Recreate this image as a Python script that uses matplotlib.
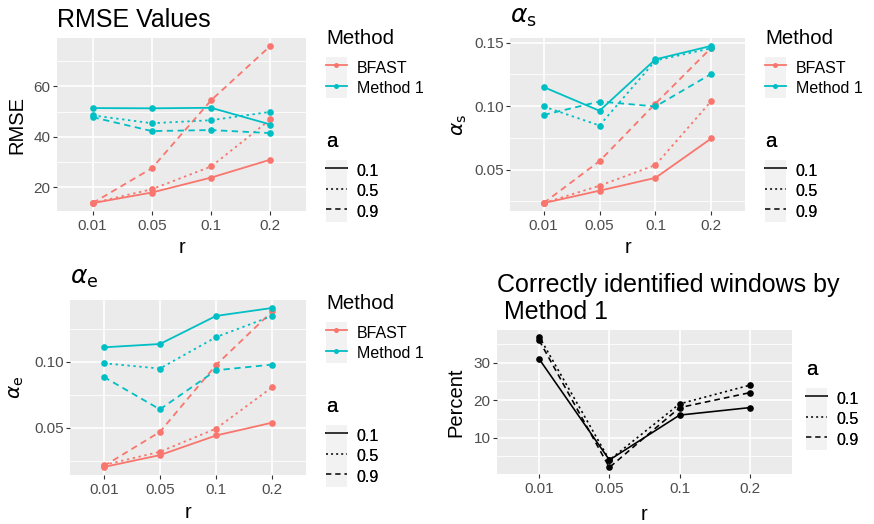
import matplotlib
matplotlib.use('Agg')
import matplotlib.pyplot as plt
from matplotlib.patches import Rectangle
from matplotlib.lines import Line2D
from matplotlib.legend_handler import HandlerLine2D
from matplotlib.ticker import FixedLocator
import numpy as np

plt.rcParams['font.family'] = ['Liberation Sans', 'DejaVu Sans']
plt.rcParams['mathtext.fontset'] = 'dejavusans'

# ---------------- data ----------------
r_labels = ['0.01', '0.05', '0.1', '0.2']
a_levels = ['0.1', '0.5', '0.9']
methods = ['BFAST', 'Method 1']

# RMSE
rmse_bfast_a01 = [13.8, 18.0, 23.9, 31.0]
rmse_bfast_a05 = [13.8, 19.3, 28.3, 46.9]
rmse_bfast_a09 = [13.8, 27.6, 54.5, 76.0]
rmse_m1_a01 = [51.4, 51.3, 51.5, 44.9]
rmse_m1_a05 = [48.5, 45.4, 46.6, 49.9]
rmse_m1_a09 = [47.8, 42.3, 42.7, 41.5]

# alpha_s
as_bfast_a01 = [0.0236, 0.0334, 0.0435, 0.0746]
as_bfast_a05 = [0.0236, 0.0373, 0.0536, 0.1041]
as_bfast_a09 = [0.0236, 0.0567, 0.1020, 0.1460]
as_m1_a01 = [0.1150, 0.0963, 0.1368, 0.1474]
as_m1_a05 = [0.0997, 0.0847, 0.1358, 0.1456]
as_m1_a09 = [0.0930, 0.1036, 0.0997, 0.1254]

# alpha_e
ae_bfast_a01 = [0.0205, 0.0295, 0.0443, 0.0540]
ae_bfast_a05 = [0.0220, 0.0320, 0.0495, 0.0808]
ae_bfast_a09 = [0.0212, 0.0470, 0.0975, 0.1380]
ae_m1_a01 = [0.1108, 0.1133, 0.1345, 0.1405]
ae_m1_a05 = [0.0988, 0.0948, 0.1185, 0.1345]
ae_m1_a09 = [0.0885, 0.0640, 0.0935, 0.0978]

# Correctly identified windows (percent)
pct_a01 = [31, 4, 16, 18]
pct_a05 = [37, 4, 19, 24]
pct_a09 = [36, 2, 18, 22]

# ---------------- style ----------------
method_colors = {'BFAST': '#F8766D', 'Method 1': '#00BFC4'}
a_styles = {'0.1': '-', '0.5': (0, (1.3, 2.0)), '0.9': (0, (3.5, 2.5))}
LW = 1.3
MS = 4.8
PANEL_BG = '#EBEBEB'
KEY_BG = '#F2F2F2'
TICK_FS = 11
LAB_FS = 14.5
TITLE_FS = 18
LEG_FS = 11.5
LEG_TITLE_FS = 14.7

W, H = 874, 524
fig = plt.figure(figsize=(W / 100, H / 100), dpi=100)


def add_panel(left, top, right, bottom):
    return fig.add_axes([left / W, 1 - bottom / H, (right - left) / W, (bottom - top) / H])


def style_panel(ax, major, minor):
    ax.set_facecolor(PANEL_BG)
    for s in ax.spines.values():
        s.set_visible(False)
    ax.set_xticks(range(len(r_labels)))
    ax.set_xticklabels(r_labels)
    ax.set_xlim(-0.6, len(r_labels) - 0.4)
    ax.yaxis.set_major_locator(FixedLocator(major))
    ax.yaxis.set_minor_locator(FixedLocator(minor))
    ax.grid(True, which='major', color='white', lw=1.2)
    ax.grid(True, which='minor', axis='y', color='white', lw=0.6)
    ax.set_axisbelow(True)
    ax.tick_params(which='major', length=2.9, width=0.8, color='#333333',
                   labelcolor='#4D4D4D', labelsize=TICK_FS)
    ax.tick_params(axis='x', pad=3.2)
    ax.tick_params(axis='y', pad=1.6)
    ax.tick_params(which='minor', length=0)
    ax.margins(y=0.05)


class KeyHandler(HandlerLine2D):
    def create_artists(self, legend, orig_handle, xdescent, ydescent,
                       width, height, fontsize, trans):
        rect = Rectangle((-xdescent, -ydescent), width, height,
                         facecolor=KEY_BG, edgecolor='none', transform=trans)
        arts = super().create_artists(legend, orig_handle, xdescent, ydescent,
                                      width, height, fontsize, trans)
        return [rect] + list(arts)


def add_legend(ax, handles, labels, title, x_px, y_px):
    leg = ax.legend(handles, labels, title=title, loc='upper left',
                    bbox_to_anchor=(x_px / W, 1 - y_px / H),
                    bbox_transform=fig.transFigure,
                    frameon=False, borderpad=0, borderaxespad=0,
                    labelspacing=0, handlelength=1.31, handleheight=1.62,
                    handletextpad=0.62, numpoints=1, fontsize=LEG_FS,
                    title_fontproperties={'size': LEG_TITLE_FS},
                    alignment='left',
                    handler_map={Line2D: KeyHandler()})
    leg._legend_box.sep = 6.5
    ax.add_artist(leg)
    return leg


def method_panel(ax, series):
    x = np.arange(len(r_labels))
    for m in methods:
        for a in a_levels:
            ax.plot(x, series[m][a], color=method_colors[m], ls=a_styles[a],
                    lw=LW, marker='o', ms=MS, mew=0)


def method_legends(ax, dx, dy):
    mh = [Line2D([], [], color=method_colors[m], lw=LW, marker='o', ms=MS * 0.75, mew=0)
          for m in methods]
    add_legend(ax, mh, methods, 'Method', 326 + dx, 29 + dy)
    ah = [Line2D([], [], color='black', lw=LW * 0.85, ls=a_styles[a]) for a in a_levels]
    add_legend(ax, ah, a_levels, 'a', 326 + dx, 132 + dy)


# ---------------- Panel 1: RMSE ----------------
ax1 = add_panel(57, 38, 306, 211)
method_panel(ax1, {'BFAST': {'0.1': rmse_bfast_a01, '0.5': rmse_bfast_a05, '0.9': rmse_bfast_a09},
                   'Method 1': {'0.1': rmse_m1_a01, '0.5': rmse_m1_a05, '0.9': rmse_m1_a09}})
style_panel(ax1, [20, 40, 60], [10, 30, 50, 70])
ax1.set_title('RMSE Values', loc='left', fontsize=TITLE_FS, y=1.065, va='baseline', pad=0)
ax1.set_ylabel('RMSE', fontsize=LAB_FS, va='center')
ax1.yaxis.set_label_coords(-0.161, 0.5)
ax1.set_xlabel('r', fontsize=LAB_FS, va='baseline')
ax1.xaxis.set_label_coords(0.5, -0.243)
method_legends(ax1, 0, 0)

# ---------------- Panel 2: alpha_s ----------------
ax2 = add_panel(510, 38, 745, 211)
method_panel(ax2, {'BFAST': {'0.1': as_bfast_a01, '0.5': as_bfast_a05, '0.9': as_bfast_a09},
                   'Method 1': {'0.1': as_m1_a01, '0.5': as_m1_a05, '0.9': as_m1_a09}})
style_panel(ax2, [0.05, 0.10, 0.15], [0.025, 0.075, 0.125])
ax2.set_yticklabels(['0.05', '0.10', '0.15'])
ax2.set_title(r'$\alpha_\mathrm{s}$', loc='left', fontsize=TITLE_FS, y=1.087, va='baseline', pad=0)
ax2.set_ylabel(r'$\alpha_\mathrm{s}$', fontsize=LAB_FS, va='center')
ax2.yaxis.set_label_coords(-0.215, 0.5)
ax2.set_xlabel('r', fontsize=LAB_FS, va='baseline')
ax2.xaxis.set_label_coords(0.5, -0.243)
method_legends(ax2, 439, 0)

# ---------------- Panel 3: alpha_e ----------------
ax3 = add_panel(70, 300, 306, 475)
method_panel(ax3, {'BFAST': {'0.1': ae_bfast_a01, '0.5': ae_bfast_a05, '0.9': ae_bfast_a09},
                   'Method 1': {'0.1': ae_m1_a01, '0.5': ae_m1_a05, '0.9': ae_m1_a09}})
style_panel(ax3, [0.05, 0.10], [0.025, 0.075, 0.125])
ax3.set_yticklabels(['0.05', '0.10'])
ax3.set_title(r'$\alpha_\mathrm{e}$', loc='left', fontsize=TITLE_FS, y=1.093, va='baseline', pad=0)
ax3.set_ylabel(r'$\alpha_\mathrm{e}$', fontsize=LAB_FS, va='center')
ax3.yaxis.set_label_coords(-0.225, 0.5)
ax3.set_xlabel('r', fontsize=LAB_FS, va='baseline')
ax3.xaxis.set_label_coords(0.5, -0.246)
method_legends(ax3, 0, 265)

# ---------------- Panel 4: percent ----------------
ax4 = add_panel(497, 330, 792, 474)
x = np.arange(len(r_labels))
for a, vals in zip(a_levels, [pct_a01, pct_a05, pct_a09]):
    ax4.plot(x, vals, color='black', ls=a_styles[a], lw=LW * 0.9, marker='o', ms=MS, mew=0)
style_panel(ax4, [10, 20, 30], [5, 15, 25, 35])
ax4.set_title('Correctly identified windows by\n Method 1', loc='left', fontsize=TITLE_FS,
              y=1.078, va='baseline', pad=0, linespacing=1.13)
ax4.set_ylabel('Percent', fontsize=LAB_FS, va='center')
ax4.yaxis.set_label_coords(-0.139, 0.5)
ax4.set_xlabel('r', fontsize=LAB_FS, va='baseline')
ax4.xaxis.set_label_coords(0.5, -0.319)
ah4 = [Line2D([], [], color='black', lw=LW * 0.85, ls=a_styles[a]) for a in a_levels]
add_legend(ax4, ah4, a_levels, 'a', 806, 360)

fig.savefig('out.png', dpi=100)
